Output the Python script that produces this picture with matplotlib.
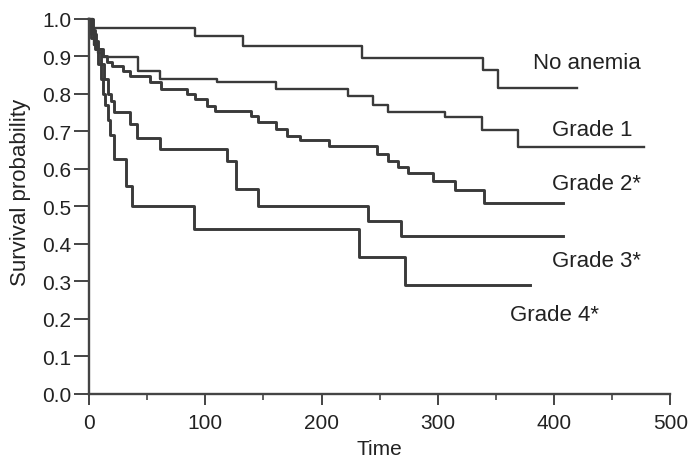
import matplotlib
matplotlib.use("Agg")
import matplotlib.pyplot as plt
from matplotlib.ticker import MultipleLocator, FormatStrFormatter

plt.rcParams['font.family'] = ['Liberation Sans', 'DejaVu Sans']

# Kaplan-Meier step data (time, survival)
no_anemia_t = [0, 3, 91, 132, 235, 339, 352, 420]
no_anemia_s = [1.0, 0.976, 0.955, 0.927, 0.896, 0.864, 0.815, 0.815]

grade1_t = [0, 1, 4, 8, 12, 42, 61, 110, 161, 223, 244, 257, 306, 338, 369, 477]
grade1_s = [1.0, 0.96, 0.93, 0.91, 0.898, 0.862, 0.84, 0.831, 0.813, 0.795,
            0.771, 0.751, 0.738, 0.704, 0.658, 0.658]

grade2_t = [0, 2, 5, 8, 12, 15, 19.5, 29, 35, 52, 62, 84, 91, 101, 108, 139, 145,
            161, 170, 181, 206, 248, 257, 266, 274, 296, 315, 340, 408]
grade2_s = [1.0, 0.97, 0.94, 0.92, 0.90, 0.885, 0.875, 0.862, 0.849, 0.831, 0.813,
            0.80, 0.787, 0.769, 0.755, 0.742, 0.724, 0.707, 0.689, 0.676, 0.662,
            0.640, 0.622, 0.605, 0.589, 0.568, 0.545, 0.510, 0.510]

grade3_t = [0, 3, 6, 10, 13, 16, 19, 21, 35, 41, 61, 119, 126, 145, 240, 268, 408]
grade3_s = [1.0, 0.96, 0.92, 0.88, 0.84, 0.80, 0.78, 0.751, 0.72, 0.682, 0.653,
            0.622, 0.547, 0.502, 0.462, 0.42, 0.42]

grade4_t = [0, 2, 5, 8, 10, 12, 14, 16, 18, 21, 32, 37, 90, 232, 272, 379]
grade4_s = [1.0, 0.95, 0.92, 0.88, 0.84, 0.80, 0.77, 0.73, 0.69, 0.627, 0.555,
            0.502, 0.44, 0.364, 0.291, 0.291]

labels = ["No anemia", "Grade 1", "Grade 2*", "Grade 3*", "Grade 4*"]
label_x = [382, 398, 398, 398, 362]
label_y = [0.883, 0.704, 0.56, 0.355, 0.213]

fig = plt.figure(figsize=(6.91, 4.64), dpi=100)
ax = fig.add_axes([0.129, 0.149, 0.841, 0.808])

curves = [(no_anemia_t, no_anemia_s, 1.7), (grade1_t, grade1_s, 1.7),
          (grade2_t, grade2_s, 2.1), (grade3_t, grade3_s, 2.1),
          (grade4_t, grade4_s, 2.1)]
for t, s, lw in curves:
    ax.step(t, s, where='post', color='#3a3a3a', lw=lw, clip_on=False)

for lab, x, y in zip(labels, label_x, label_y):
    ax.text(x, y, lab, fontsize=16, color='#222222', va='center', ha='left')

ax.set_xlim(0, 500)
ax.set_ylim(0, 1.0)
ax.xaxis.set_major_locator(MultipleLocator(100))
ax.xaxis.set_minor_locator(MultipleLocator(50))
ax.yaxis.set_major_locator(MultipleLocator(0.1))
ax.yaxis.set_major_formatter(FormatStrFormatter('%.1f'))

for side in ['top', 'right']:
    ax.spines[side].set_visible(False)
for side in ['left', 'bottom']:
    ax.spines[side].set_linewidth(1.7)
    ax.spines[side].set_color('#444444')

ax.tick_params(axis='both', which='major', width=1.4, color='#444444',
               labelsize=15, labelcolor='#222222', pad=2)
ax.tick_params(axis='y', which='major', length=11)
ax.tick_params(axis='x', which='major', length=8, pad=6)
ax.tick_params(axis='x', which='minor', length=4, width=1.2, color='#444444')

ax.set_xlabel("Time", fontsize=15, color='#222222', labelpad=5)
ax.set_ylabel("Survival probability", fontsize=16, color='#222222')
ax.yaxis.set_label_coords(-0.1, 0.54)

fig.savefig("out.png", dpi=100)
